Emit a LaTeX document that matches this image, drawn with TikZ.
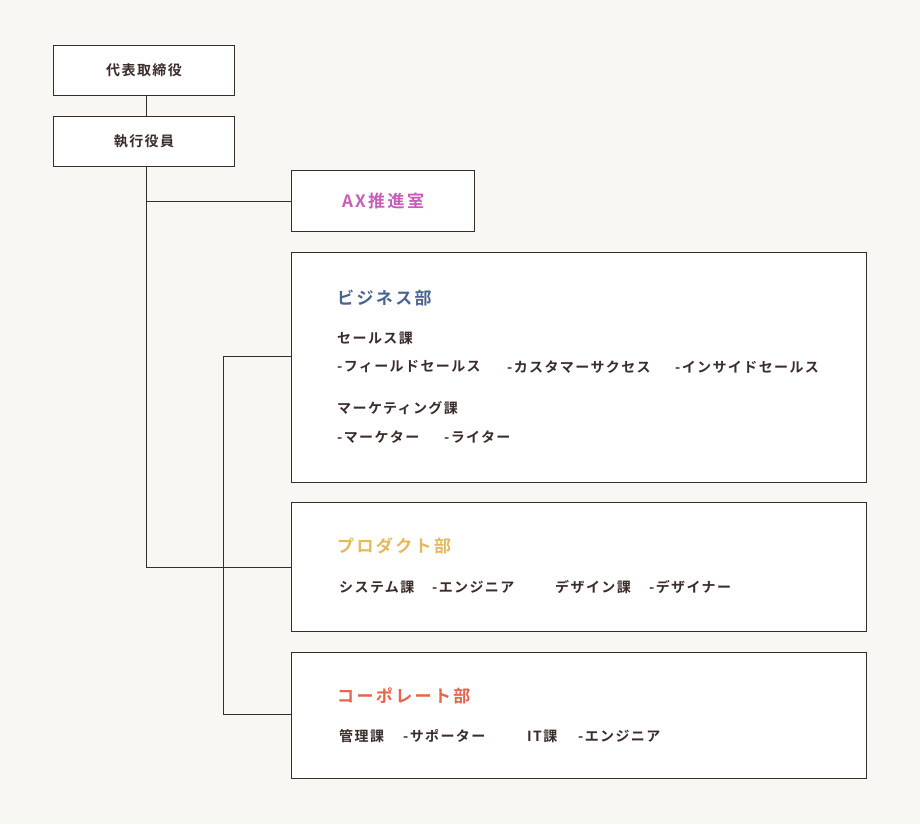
\documentclass[tikz,border=0pt]{standalone}
\usepackage{fontspec}
\setmainfont{Noto Sans CJK JP}[BoldFont={Noto Sans CJK JP Bold}, LetterSpace=10]
\newfontfamily\headfont{Noto Sans CJK JP Bold}[LetterSpace=14]
\usetikzlibrary{positioning}
\definecolor{bg}{HTML}{F8F7F3}
\definecolor{ink}{HTML}{3A2C2A}
\definecolor{axc}{HTML}{C95CB8}
\definecolor{bizc}{HTML}{4A6490}
\definecolor{prodc}{HTML}{E6B85C}
\definecolor{corpc}{HTML}{E8634A}
\begin{document}
\begin{tikzpicture}[x=1pt,y=-1pt,
box/.style={draw=ink, fill=white, line width=1pt, anchor=north west, inner sep=0pt},
head/.style={anchor=west, font=\headfont\fontsize{17}{20}\selectfont, inner sep=0pt},
item/.style={anchor=west, font=\bfseries\fontsize{14}{16}\selectfont, text=ink, inner sep=0pt},
link/.style={draw=ink, line width=0.8pt}]
\fill[bg] (0,0) rectangle (920,824);
\useasboundingbox (0,0) rectangle (920,824);

% top
\node[box, minimum width=181pt, minimum height=50pt] (ceo) at (53,45) {};
\node[item, anchor=center] at (ceo.center) {代表取締役};
\node[box, minimum width=181pt, minimum height=50pt] (exec) at (53,116) {};
\node[item, anchor=center] at (exec.center) {執行役員};
\node[box, minimum width=183pt, minimum height=61pt] (ax) at (291,170) {};
\node[head, anchor=center, text=axc] at (ax.center) {AX推進室};

% departments
\node[box, minimum width=575pt, minimum height=230pt] (biz) at (291,252) {};
\node[box, minimum width=575pt, minimum height=129pt] (prod) at (291,502) {};
\node[box, minimum width=575pt, minimum height=126pt] (corp) at (291,652) {};

% connectors
\coordinate (top) at (146,166);
\coordinate (trunk) at (146,567);
\coordinate (branch) at (223,356);
\coordinate (bend) at (223,714);
\draw[link] (ceo.south -| top) -- (exec.north -| top);
\draw[link] (top) -- (trunk) -- (prod.west |- trunk);
\draw[link] (top |- ax.west) -- (ax.west);
\draw[link] (biz.west |- branch) -- (branch) -- (bend) -- (corp.west |- bend);

% business
\node[head, text=bizc] at (337,298) {ビジネス部};
\node[item] at (337,338) {セールス課};
\node[item] at (337,367) {-フィールドセールス};
\node[item] at (507,367) {-カスタマーサクセス};
\node[item] at (675,367) {-インサイドセールス};
\node[item] at (337,408) {マーケティング課};
\node[item] at (337,437) {-マーケター};
\node[item] at (444,437) {-ライター};

% product
\node[head, text=prodc] at (337,546) {プロダクト部};
\node[item] at (339,587) {システム課};
\node[item] at (432,587) {-エンジニア};
\node[item] at (555,587) {デザイン課};
\node[item] at (649,587) {-デザイナー};

% corporate
\node[head, text=corpc] at (337,696) {コーポレート部};
\node[item] at (339,736) {管理課};
\node[item] at (403,736) {-サポーター};
\node[item] at (527,736) {IT課};
\node[item] at (578,736) {-エンジニア};
\end{tikzpicture}
\end{document}
